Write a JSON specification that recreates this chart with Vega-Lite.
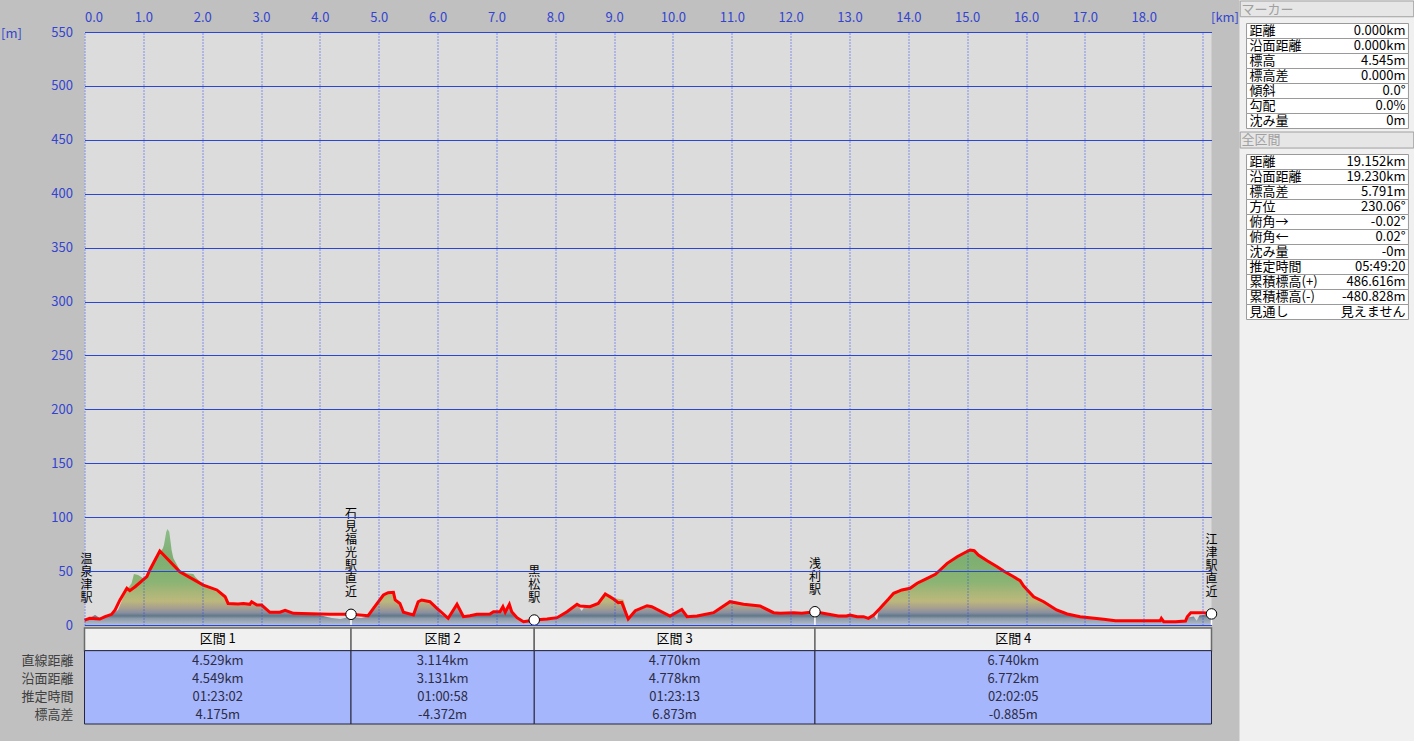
{
  "$schema": "https://vega.github.io/schema/vega-lite/v6.json",
  "background": "#c0c0c0",
  "padding": {"left": 0.5, "top": 0, "right": 0, "bottom": 0},
  "spacing": 0,
  "config": {"view": {"stroke": null}, "font": "Noto Sans CJK JP"},
  "datasets": {
    "route": [
      {"km": 0, "elev": 4.5}, {"km": 0.09, "elev": 6.2}, {"km": 0.26, "elev": 5.5}, {"km": 0.35, "elev": 7.7},
      {"km": 0.46, "elev": 9.9}, {"km": 0.52, "elev": 13.9}, {"km": 0.6, "elev": 23}, {"km": 0.72, "elev": 34},
      {"km": 0.77, "elev": 31.8}, {"km": 0.86, "elev": 35.5}, {"km": 1.06, "elev": 44.8}, {"km": 1.11, "elev": 51},
      {"km": 1.28, "elev": 68.6}, {"km": 1.62, "elev": 49.4}, {"km": 2.02, "elev": 37}, {"km": 2.25, "elev": 32.5},
      {"km": 2.39, "elev": 26.2}, {"km": 2.44, "elev": 20}, {"km": 2.61, "elev": 19.5}, {"km": 2.7, "elev": 20},
      {"km": 2.81, "elev": 19.2}, {"km": 2.84, "elev": 21.6}, {"km": 2.93, "elev": 18.5}, {"km": 3.01, "elev": 18.5},
      {"km": 3.15, "elev": 11.8}, {"km": 3.32, "elev": 11.8}, {"km": 3.41, "elev": 13.6}, {"km": 3.55, "elev": 10.8},
      {"km": 4.0, "elev": 10.2}, {"km": 4.17, "elev": 9.9}, {"km": 4.529, "elev": 9.9}, {"km": 4.82, "elev": 8.6},
      {"km": 4.91, "elev": 15.5}, {"km": 5.08, "elev": 27.8}, {"km": 5.16, "elev": 30}, {"km": 5.25, "elev": 30.3},
      {"km": 5.28, "elev": 23.2}, {"km": 5.36, "elev": 20}, {"km": 5.42, "elev": 11.8}, {"km": 5.59, "elev": 9.3},
      {"km": 5.67, "elev": 21.6}, {"km": 5.73, "elev": 23.2}, {"km": 5.87, "elev": 21.6}, {"km": 5.99, "elev": 15.5},
      {"km": 6.18, "elev": 6.2}, {"km": 6.33, "elev": 19.2}, {"km": 6.44, "elev": 7.7}, {"km": 6.55, "elev": 8.6},
      {"km": 6.67, "elev": 9.9}, {"km": 6.89, "elev": 10.2}, {"km": 6.95, "elev": 12.3}, {"km": 7.06, "elev": 12.3},
      {"km": 7.11, "elev": 17}, {"km": 7.15, "elev": 11.8}, {"km": 7.22, "elev": 19.2}, {"km": 7.26, "elev": 12.3},
      {"km": 7.35, "elev": 6.8}, {"km": 7.46, "elev": 3.1}, {"km": 7.57, "elev": 4}, {"km": 7.643, "elev": 4.6},
      {"km": 7.86, "elev": 5.6}, {"km": 8.03, "elev": 6.8}, {"km": 8.2, "elev": 12.3}, {"km": 8.37, "elev": 19.2},
      {"km": 8.42, "elev": 17.6}, {"km": 8.59, "elev": 17}, {"km": 8.73, "elev": 20}, {"km": 8.85, "elev": 28.7},
      {"km": 8.99, "elev": 24.1}, {"km": 9.07, "elev": 20.7}, {"km": 9.13, "elev": 21}, {"km": 9.24, "elev": 5.6},
      {"km": 9.36, "elev": 13.3}, {"km": 9.56, "elev": 17.9}, {"km": 9.64, "elev": 17}, {"km": 9.95, "elev": 8.3},
      {"km": 10.15, "elev": 14.5}, {"km": 10.24, "elev": 7.7}, {"km": 10.41, "elev": 8.3}, {"km": 10.69, "elev": 11.4},
      {"km": 10.97, "elev": 21.6}, {"km": 11.2, "elev": 19.2}, {"km": 11.48, "elev": 17.6}, {"km": 11.71, "elev": 11.4},
      {"km": 11.82, "elev": 10.8}, {"km": 12.05, "elev": 11.4}, {"km": 12.19, "elev": 10.8}, {"km": 12.413, "elev": 12.3},
      {"km": 12.67, "elev": 9.8}, {"km": 12.81, "elev": 8.3}, {"km": 12.95, "elev": 8.3}, {"km": 13.01, "elev": 9.3},
      {"km": 13.13, "elev": 7.7}, {"km": 13.24, "elev": 7.7}, {"km": 13.32, "elev": 6.2}, {"km": 13.41, "elev": 9.3},
      {"km": 13.52, "elev": 15.5}, {"km": 13.66, "elev": 23.8}, {"km": 13.75, "elev": 29.4}, {"km": 13.89, "elev": 32.5},
      {"km": 14.03, "elev": 34}, {"km": 14.15, "elev": 38.7}, {"km": 14.32, "elev": 43.3}, {"km": 14.46, "elev": 47},
      {"km": 14.54, "elev": 51}, {"km": 14.66, "elev": 57.2}, {"km": 14.83, "elev": 63.3}, {"km": 14.94, "elev": 66.5},
      {"km": 15.05, "elev": 69.6}, {"km": 15.12, "elev": 68.9}, {"km": 15.19, "elev": 64.9}, {"km": 15.34, "elev": 59.6},
      {"km": 15.51, "elev": 54.1}, {"km": 15.62, "elev": 50.1}, {"km": 15.79, "elev": 44.8}, {"km": 15.9, "elev": 41.1},
      {"km": 15.96, "elev": 36.2}, {"km": 16.13, "elev": 26.2}, {"km": 16.3, "elev": 21.6}, {"km": 16.52, "elev": 13.9},
      {"km": 16.7, "elev": 10.2}, {"km": 16.92, "elev": 7.7}, {"km": 17.32, "elev": 5.3}, {"km": 17.52, "elev": 4},
      {"km": 18.28, "elev": 4}, {"km": 18.3, "elev": 6.2}, {"km": 18.34, "elev": 3.1}, {"km": 18.54, "elev": 3.1},
      {"km": 18.71, "elev": 3.7}, {"km": 18.74, "elev": 7.7}, {"km": 18.8, "elev": 11.4}, {"km": 19.02, "elev": 11.4},
      {"km": 19.152, "elev": 10.3}
    ],
    "terrain": [
      {"km": 0, "elev": 4}, {"km": 0.1, "elev": 7}, {"km": 0.18, "elev": 9.3}, {"km": 0.26, "elev": 6.5},
      {"km": 0.4, "elev": 8.5}, {"km": 0.49, "elev": 10.8}, {"km": 0.57, "elev": 14}, {"km": 0.66, "elev": 26.2},
      {"km": 0.74, "elev": 34}, {"km": 0.8, "elev": 38.7}, {"km": 0.84, "elev": 47.3}, {"km": 0.91, "elev": 46.4},
      {"km": 1.0, "elev": 43.3}, {"km": 1.11, "elev": 49.4}, {"km": 1.25, "elev": 65}, {"km": 1.33, "elev": 71},
      {"km": 1.35, "elev": 74.2}, {"km": 1.39, "elev": 86.5}, {"km": 1.41, "elev": 89}, {"km": 1.44, "elev": 86.5},
      {"km": 1.47, "elev": 74.2}, {"km": 1.48, "elev": 69.6}, {"km": 1.51, "elev": 61.9}, {"km": 1.62, "elev": 51},
      {"km": 1.74, "elev": 48}, {"km": 1.85, "elev": 47.3}, {"km": 1.88, "elev": 44.8}, {"km": 2.02, "elev": 37},
      {"km": 2.19, "elev": 34}, {"km": 2.25, "elev": 32.5}, {"km": 2.39, "elev": 26.2}, {"km": 2.47, "elev": 20},
      {"km": 2.61, "elev": 19.5}, {"km": 2.7, "elev": 20}, {"km": 2.81, "elev": 19.2}, {"km": 2.84, "elev": 21},
      {"km": 2.93, "elev": 18.5}, {"km": 3.01, "elev": 18.5}, {"km": 3.15, "elev": 11.8}, {"km": 3.32, "elev": 11.8},
      {"km": 3.41, "elev": 14.5}, {"km": 3.55, "elev": 11}, {"km": 3.8, "elev": 9.5}, {"km": 4.0, "elev": 9},
      {"km": 4.2, "elev": 6.5}, {"km": 4.35, "elev": 5.5}, {"km": 4.5, "elev": 7.5}, {"km": 4.7, "elev": 6.5},
      {"km": 4.82, "elev": 8}, {"km": 4.91, "elev": 15}, {"km": 5.08, "elev": 27.5}, {"km": 5.16, "elev": 29.5},
      {"km": 5.25, "elev": 29.5}, {"km": 5.28, "elev": 23}, {"km": 5.36, "elev": 19.5}, {"km": 5.42, "elev": 11.5},
      {"km": 5.59, "elev": 9}, {"km": 5.67, "elev": 21}, {"km": 5.73, "elev": 22.8}, {"km": 5.87, "elev": 21},
      {"km": 5.99, "elev": 15}, {"km": 6.05, "elev": 10}, {"km": 6.18, "elev": 6}, {"km": 6.33, "elev": 19},
      {"km": 6.44, "elev": 7.5}, {"km": 6.55, "elev": 8.4}, {"km": 6.67, "elev": 9.7}, {"km": 6.89, "elev": 10},
      {"km": 6.95, "elev": 12}, {"km": 7.06, "elev": 12}, {"km": 7.11, "elev": 16.8}, {"km": 7.15, "elev": 11.6},
      {"km": 7.22, "elev": 19}, {"km": 7.26, "elev": 12}, {"km": 7.35, "elev": 6.6}, {"km": 7.46, "elev": 3},
      {"km": 7.643, "elev": 4.4}, {"km": 7.86, "elev": 5.4}, {"km": 8.03, "elev": 6.6}, {"km": 8.2, "elev": 12},
      {"km": 8.37, "elev": 19}, {"km": 8.45, "elev": 13}, {"km": 8.5, "elev": 17.5}, {"km": 8.73, "elev": 20},
      {"km": 8.85, "elev": 28.5}, {"km": 8.94, "elev": 28}, {"km": 9.0, "elev": 25}, {"km": 9.16, "elev": 23.5},
      {"km": 9.2, "elev": 15}, {"km": 9.24, "elev": 5.4}, {"km": 9.36, "elev": 13}, {"km": 9.56, "elev": 17.6},
      {"km": 9.64, "elev": 16.8}, {"km": 9.95, "elev": 8}, {"km": 10.15, "elev": 14.2}, {"km": 10.24, "elev": 7.5},
      {"km": 10.41, "elev": 8}, {"km": 10.69, "elev": 11.2}, {"km": 10.97, "elev": 21.4}, {"km": 11.2, "elev": 19},
      {"km": 11.48, "elev": 17.4}, {"km": 11.71, "elev": 11.2}, {"km": 11.82, "elev": 10.6}, {"km": 12.05, "elev": 11.2},
      {"km": 12.19, "elev": 10.6}, {"km": 12.413, "elev": 12}, {"km": 12.67, "elev": 9.6}, {"km": 12.81, "elev": 8},
      {"km": 12.95, "elev": 8}, {"km": 13.01, "elev": 9}, {"km": 13.13, "elev": 7.5}, {"km": 13.24, "elev": 7.5},
      {"km": 13.32, "elev": 6}, {"km": 13.41, "elev": 9}, {"km": 13.47, "elev": 4.6}, {"km": 13.5, "elev": 16},
      {"km": 13.56, "elev": 20}, {"km": 13.66, "elev": 23.5}, {"km": 13.75, "elev": 29}, {"km": 13.89, "elev": 32},
      {"km": 14.03, "elev": 33.6}, {"km": 14.15, "elev": 38.3}, {"km": 14.32, "elev": 43}, {"km": 14.46, "elev": 46.6},
      {"km": 14.54, "elev": 50.6}, {"km": 14.66, "elev": 56.8}, {"km": 14.83, "elev": 63}, {"km": 14.94, "elev": 66.5},
      {"km": 15.0, "elev": 70.3}, {"km": 15.05, "elev": 69.8}, {"km": 15.12, "elev": 68.6}, {"km": 15.19, "elev": 64.6},
      {"km": 15.34, "elev": 59.2}, {"km": 15.51, "elev": 53.8}, {"km": 15.62, "elev": 49.8}, {"km": 15.79, "elev": 44.4},
      {"km": 15.9, "elev": 40.8}, {"km": 15.96, "elev": 36}, {"km": 16.13, "elev": 26}, {"km": 16.3, "elev": 21.4},
      {"km": 16.52, "elev": 13.6}, {"km": 16.7, "elev": 10}, {"km": 16.92, "elev": 7.4}, {"km": 17.32, "elev": 5},
      {"km": 17.52, "elev": 3.8}, {"km": 18.28, "elev": 3.8}, {"km": 18.34, "elev": 3}, {"km": 18.54, "elev": 3},
      {"km": 18.71, "elev": 3.5}, {"km": 18.75, "elev": 7}, {"km": 18.85, "elev": 8}, {"km": 18.9, "elev": 4},
      {"km": 18.95, "elev": 9}, {"km": 19.1, "elev": 9.5}, {"km": 19.152, "elev": 10}
    ],
    "stations": [
      {"name": "温泉津駅", "km": 0, "elev": 4.5},
      {"name": "石見福光駅直近", "km": 4.529, "elev": 9.9},
      {"name": "黒松駅", "km": 7.643, "elev": 4.6},
      {"name": "浅利駅", "km": 12.413, "elev": 12.3},
      {"name": "江津駅直近", "km": 19.152, "elev": 10.3}
    ],
    "sections": [
      {"section": "区間 1", "start": 0, "end": 4.529, "row": 1, "metric": "直線距離", "value": "4.529km"},
      {"section": "区間 1", "start": 0, "end": 4.529, "row": 2, "metric": "沿面距離", "value": "4.549km"},
      {"section": "区間 1", "start": 0, "end": 4.529, "row": 3, "metric": "推定時間", "value": "01:23:02"},
      {"section": "区間 1", "start": 0, "end": 4.529, "row": 4, "metric": "標高差", "value": "4.175m"},
      {"section": "区間 2", "start": 4.529, "end": 7.643, "row": 1, "metric": "直線距離", "value": "3.114km"},
      {"section": "区間 2", "start": 4.529, "end": 7.643, "row": 2, "metric": "沿面距離", "value": "3.131km"},
      {"section": "区間 2", "start": 4.529, "end": 7.643, "row": 3, "metric": "推定時間", "value": "01:00:58"},
      {"section": "区間 2", "start": 4.529, "end": 7.643, "row": 4, "metric": "標高差", "value": "-4.372m"},
      {"section": "区間 3", "start": 7.643, "end": 12.413, "row": 1, "metric": "直線距離", "value": "4.770km"},
      {"section": "区間 3", "start": 7.643, "end": 12.413, "row": 2, "metric": "沿面距離", "value": "4.778km"},
      {"section": "区間 3", "start": 7.643, "end": 12.413, "row": 3, "metric": "推定時間", "value": "01:23:13"},
      {"section": "区間 3", "start": 7.643, "end": 12.413, "row": 4, "metric": "標高差", "value": "6.873m"},
      {"section": "区間 4", "start": 12.413, "end": 19.152, "row": 1, "metric": "直線距離", "value": "6.740km"},
      {"section": "区間 4", "start": 12.413, "end": 19.152, "row": 2, "metric": "沿面距離", "value": "6.772km"},
      {"section": "区間 4", "start": 12.413, "end": 19.152, "row": 3, "metric": "推定時間", "value": "02:02:05"},
      {"section": "区間 4", "start": 12.413, "end": 19.152, "row": 4, "metric": "標高差", "value": "-0.885m"}
    ],
    "marker": [
      {"row": 1, "label": "距離", "value": "0.000km"},
      {"row": 2, "label": "沿面距離", "value": "0.000km"},
      {"row": 3, "label": "標高", "value": "4.545m"},
      {"row": 4, "label": "標高差", "value": "0.000m"},
      {"row": 5, "label": "傾斜", "value": "0.0°"},
      {"row": 6, "label": "勾配", "value": "0.0%"},
      {"row": 7, "label": "沈み量", "value": "0m"}
    ],
    "total": [
      {"row": 1, "label": "距離", "value": "19.152km"},
      {"row": 2, "label": "沿面距離", "value": "19.230km"},
      {"row": 3, "label": "標高差", "value": "5.791m"},
      {"row": 4, "label": "方位", "value": "230.06°"},
      {"row": 5, "label": "俯角→", "value": "-0.02°"},
      {"row": 6, "label": "俯角←", "value": "0.02°"},
      {"row": 7, "label": "沈み量", "value": "-0m"},
      {"row": 8, "label": "推定時間", "value": "05:49:20"},
      {"row": 9, "label": "累積標高(+)", "value": "486.616m"},
      {"row": 10, "label": "累積標高(-)", "value": "-480.828m"},
      {"row": 11, "label": "見通し", "value": "見えません"}
    ]
  },
  "hconcat": [
    {
      "bounds": "flush",
      "spacing": 3,
      "vconcat": [
        {"width": 1127, "height": 29, "data": {"values": []}, "mark": "rect", "encoding": {}},
        {
          "width": 1127,
          "height": 593,
          "view": {"fill": "#dcdcdc"},
          "layer": [
            {
              "data": {"name": "terrain"},
              "mark": {
                "type": "area",
                "color": {
                  "gradient": "linear", "x1": 0, "y1": 0, "x2": 0, "y2": 1,
                  "stops": [
                    {"offset": 0, "color": "#8cbc8a"},
                    {"offset": 0.3, "color": "#7eae72"},
                    {"offset": 0.55, "color": "#8ab474"},
                    {"offset": 0.66, "color": "#a8b678"},
                    {"offset": 0.75, "color": "#bcb87c"},
                    {"offset": 0.82, "color": "#a8a08e"},
                    {"offset": 0.87, "color": "#8a90a0"},
                    {"offset": 0.905, "color": "#607888"},
                    {"offset": 0.93, "color": "#8a98a8"},
                    {"offset": 1, "color": "#b4becc"}
                  ]
                }
              },
              "encoding": {
                "x": {
                  "field": "km", "type": "quantitative",
                  "scale": {"domain": [0, 19.152], "nice": false, "zero": false},
                  "axis": {
                    "orient": "top",
                    "values": [0,1,2,3,4,5,6,7,8,9,10,11,12,13,14,15,16,17,18,19],
                    "format": ".1f",
                    "labelExpr": "datum.value >= 19 ? '' : datum.label",
                    "grid": true, "gridColor": "#2a46f0", "gridDash": [1, 2], "gridWidth": 1,
                    "domain": false, "ticks": false,
                    "labelColor": "#3444d0", "labelFontSize": 13, "labelPadding": 8, "labelFlush": true,
                    "zindex": 1,
                    "title": "[km]", "titleColor": "#3444d0", "titleFontSize": 13, "titleFontWeight": "normal",
                    "titleX": 1140, "titleY": -15, "titleAngle": 0, "titleAlign": "center", "titleBaseline": "middle"
                  }
                },
                "y": {
                  "field": "elev", "type": "quantitative",
                  "scale": {"domain": [0, 550], "nice": false},
                  "axis": {
                    "values": [0,50,100,150,200,250,300,350,400,450,500,550],
                    "grid": true, "gridColor": "#2a46d8", "gridWidth": 1,
                    "domain": false, "ticks": false,
                    "labelColor": "#3444d0", "labelFontSize": 13, "labelPadding": 12,
                    "zindex": 1,
                    "title": "[m]", "titleColor": "#3444d0", "titleFontSize": 13, "titleFontWeight": "normal",
                    "titleAngle": 0, "titleX": -84, "titleY": 1, "titleAlign": "left", "titleBaseline": "middle"
                  }
                }
              }
            },
            {
              "data": {"name": "route"},
              "mark": {"type": "line", "color": "#ff0000", "strokeWidth": 3},
              "encoding": {
                "x": {"field": "km", "type": "quantitative"},
                "y": {"field": "elev", "type": "quantitative"}
              }
            },
            {
              "mark": {"type": "rule", "color": "#1e3ce6", "strokeWidth": 2.5},
              "encoding": {"y": {"datum": 550}}
            },
            {
              "mark": {"type": "rule", "color": "#1e3ce6", "strokeWidth": 2.5},
              "encoding": {"y": {"datum": 0}}
            },
            {
              "mark": {"type": "rule", "color": "#2040e0", "strokeWidth": 1.5},
              "encoding": {"x": {"datum": 19.152}}
            },
            {
              "mark": {"type": "rule", "color": "#ffffff", "strokeWidth": 1, "xOffset": -1},
              "encoding": {"x": {"datum": 0}}
            },
            {
              "data": {"name": "stations"},
              "transform": [{"filter": "datum.km > 0"}],
              "mark": {"type": "rule", "color": "#ffffff", "strokeWidth": 1.5},
              "encoding": {
                "x": {"field": "km", "type": "quantitative"},
                "y": {"field": "elev", "type": "quantitative"},
                "y2": {"datum": 0}
              }
            },
            {
              "data": {"name": "stations"},
              "transform": [{"filter": "datum.km > 0"}],
              "mark": {"type": "circle", "color": "#ffffff", "stroke": "#000000", "strokeWidth": 1, "opacity": 1, "size": 110},
              "encoding": {
                "x": {"field": "km", "type": "quantitative"},
                "y": {"field": "elev", "type": "quantitative"}
              }
            },
            {
              "data": {"name": "stations"},
              "transform": [{"filter": "length(datum.name) == 3"}, {"calculate": "split(datum.name, '')", "as": "chars"}],
              "mark": {"type": "text", "fontSize": 12, "lineHeight": 13, "lineBreak": "\n", "baseline": "bottom", "align": "center", "dy": -41, "color": "#000000"},
              "encoding": {
                "x": {"field": "km", "type": "quantitative"},
                "y": {"field": "elev", "type": "quantitative"},
                "text": {"field": "chars"}
              }
            },
            {
              "data": {"name": "stations"},
              "transform": [{"filter": "length(datum.name) == 4"}, {"calculate": "split(datum.name, '')", "as": "chars"}],
              "mark": {"type": "text", "fontSize": 12, "lineHeight": 13, "lineBreak": "\n", "baseline": "bottom", "align": "center", "dy": -54, "dx": 2, "color": "#000000"},
              "encoding": {
                "x": {"field": "km", "type": "quantitative"},
                "y": {"field": "elev", "type": "quantitative"},
                "text": {"field": "chars"}
              }
            },
            {
              "data": {"name": "stations"},
              "transform": [{"filter": "length(datum.name) == 5"}, {"calculate": "split(datum.name, '')", "as": "chars"}],
              "mark": {"type": "text", "fontSize": 12, "lineHeight": 13, "lineBreak": "\n", "baseline": "bottom", "align": "center", "dy": -67, "color": "#000000"},
              "encoding": {
                "x": {"field": "km", "type": "quantitative"},
                "y": {"field": "elev", "type": "quantitative"},
                "text": {"field": "chars"}
              }
            },
            {
              "data": {"name": "stations"},
              "transform": [{"filter": "length(datum.name) == 7"}, {"calculate": "split(datum.name, '')", "as": "chars"}],
              "mark": {"type": "text", "fontSize": 12, "lineHeight": 13, "lineBreak": "\n", "baseline": "bottom", "align": "center", "dy": -93, "color": "#000000"},
              "encoding": {
                "x": {"field": "km", "type": "quantitative"},
                "y": {"field": "elev", "type": "quantitative"},
                "text": {"field": "chars"}
              }
            }
          ]
        },
        {
          "width": 1127,
          "height": 96,
          "data": {"name": "sections"},
          "transform": [{"calculate": "(datum.start + datum.end) / 2", "as": "mid"}],
          "layer": [
            {
              "transform": [{"filter": "datum.row == 1"}],
              "mark": {"type": "rect", "fill": "#f0f0f0", "stroke": "#6a6a6a", "strokeWidth": 1.5},
              "encoding": {
                "x": {"field": "start", "type": "quantitative", "scale": {"domain": [0, 19.152], "nice": false, "zero": false}, "axis": null},
                "x2": {"field": "end"},
                "y": {"datum": -0.8, "type": "quantitative", "scale": {"domain": [-0.8, 4.5], "reverse": true, "nice": false, "zero": false}, "axis": null},
                "y2": {"datum": 0.45}
              }
            },
            {
              "transform": [{"filter": "datum.row == 1"}],
              "mark": {"type": "rect", "fill": "#a6b6fc", "stroke": "#26263a", "strokeWidth": 1},
              "encoding": {
                "x": {"field": "start", "type": "quantitative"},
                "x2": {"field": "end"},
                "y": {"datum": 0.45, "type": "quantitative"},
                "y2": {"datum": 4.5}
              }
            },
            {
              "transform": [{"filter": "datum.row == 1"}],
              "mark": {"type": "text", "fontSize": 13, "color": "#000000", "baseline": "middle"},
              "encoding": {
                "x": {"field": "mid", "type": "quantitative"},
                "y": {"datum": -0.175, "type": "quantitative"},
                "text": {"field": "section"}
              }
            },
            {
              "mark": {"type": "text", "fontSize": 13, "color": "#2c2c44", "baseline": "middle"},
              "encoding": {
                "x": {"field": "mid", "type": "quantitative"},
                "y": {"field": "row", "type": "quantitative"},
                "text": {"field": "value"}
              }
            },
            {
              "transform": [{"filter": "datum.section == '区間 1'"}],
              "mark": {"type": "text", "fontSize": 13, "color": "#404040", "baseline": "middle", "align": "right", "dx": -11},
              "encoding": {
                "x": {"datum": 0, "type": "quantitative"},
                "y": {"field": "row", "type": "quantitative"},
                "text": {"field": "metric"}
              }
            }
          ]
        }
      ]
    },
    {
      "bounds": "flush",
      "spacing": 0,
      "vconcat": [
        {
          "width": 176,
          "height": 132,
          "view": {"fill": "#f0f0f0"},
          "layer": [
            {
              "data": {"values": [{"title": "マーカー"}]},
              "mark": {"type": "rect", "fill": "#e6e6e6", "stroke": "#a0a0a0", "strokeWidth": 1},
              "encoding": {
                "x": {"datum": 0.004, "type": "quantitative", "scale": {"domain": [0, 1]}, "axis": null},
                "x2": {"datum": 0.99},
                "y": {"datum": -1, "type": "quantitative", "scale": {"domain": [-1.067, 7.733], "reverse": true, "nice": false, "zero": false}, "axis": null},
                "y2": {"datum": 0.05}
              }
            },
            {
              "data": {"values": [{"title": "マーカー"}]},
              "mark": {"type": "text", "fontSize": 13, "color": "#a0a0a0", "align": "left", "baseline": "middle"},
              "encoding": {
                "x": {"datum": 0.011, "type": "quantitative"},
                "y": {"datum": -0.42, "type": "quantitative"},
                "text": {"field": "title"}
              }
            },
            {
              "data": {"name": "marker"},
              "mark": {"type": "rect", "fill": "#ffffff", "stroke": "#9a9a9a", "strokeWidth": 1, "yOffset": -7.5, "y2Offset": 7.5},
              "encoding": {
                "x": {"datum": 0.04, "type": "quantitative"},
                "x2": {"datum": 0.96},
                "y": {"field": "row", "type": "quantitative"},
                "y2": {"field": "row"}
              }
            },
            {
              "data": {"name": "marker"},
              "mark": {"type": "text", "fontSize": 13, "color": "#000000", "align": "left", "baseline": "middle"},
              "encoding": {
                "x": {"datum": 0.057, "type": "quantitative"},
                "y": {"field": "row", "type": "quantitative"},
                "text": {"field": "label"}
              }
            },
            {
              "data": {"name": "marker"},
              "mark": {"type": "text", "fontSize": 13, "color": "#000000", "align": "right", "baseline": "middle"},
              "encoding": {
                "x": {"datum": 0.943, "type": "quantitative"},
                "y": {"field": "row", "type": "quantitative"},
                "text": {"field": "value"}
              }
            }
          ]
        },
        {
          "width": 176,
          "height": 609,
          "view": {"fill": "#f0f0f0"},
          "layer": [
            {
              "data": {"values": [{"title": "全区間"}]},
              "mark": {"type": "rect", "fill": "#e6e6e6", "stroke": "#a0a0a0", "strokeWidth": 1},
              "encoding": {
                "x": {"datum": 0.004, "type": "quantitative", "scale": {"domain": [0, 1]}, "axis": null},
                "x2": {"datum": 0.99},
                "y": {"datum": -1, "type": "quantitative", "scale": {"domain": [-1, 39.6], "reverse": true, "nice": false, "zero": false}, "axis": null},
                "y2": {"datum": 0.07}
              }
            },
            {
              "data": {"values": [{"title": "全区間"}]},
              "mark": {"type": "text", "fontSize": 13, "color": "#a0a0a0", "align": "left", "baseline": "middle"},
              "encoding": {
                "x": {"datum": 0.011, "type": "quantitative"},
                "y": {"datum": -0.45, "type": "quantitative"},
                "text": {"field": "title"}
              }
            },
            {
              "data": {"name": "total"},
              "mark": {"type": "rect", "fill": "#ffffff", "stroke": "#9a9a9a", "strokeWidth": 1, "yOffset": -7.5, "y2Offset": 7.5},
              "encoding": {
                "x": {"datum": 0.04, "type": "quantitative"},
                "x2": {"datum": 0.96},
                "y": {"field": "row", "type": "quantitative"},
                "y2": {"field": "row"}
              }
            },
            {
              "data": {"name": "total"},
              "mark": {"type": "text", "fontSize": 13, "color": "#000000", "align": "left", "baseline": "middle"},
              "encoding": {
                "x": {"datum": 0.057, "type": "quantitative"},
                "y": {"field": "row", "type": "quantitative"},
                "text": {"field": "label"}
              }
            },
            {
              "data": {"name": "total"},
              "mark": {"type": "text", "fontSize": 13, "color": "#000000", "align": "right", "baseline": "middle"},
              "encoding": {
                "x": {"datum": 0.943, "type": "quantitative"},
                "y": {"field": "row", "type": "quantitative"},
                "text": {"field": "value"}
              }
            }
          ]
        }
      ]
    }
  ]
}
